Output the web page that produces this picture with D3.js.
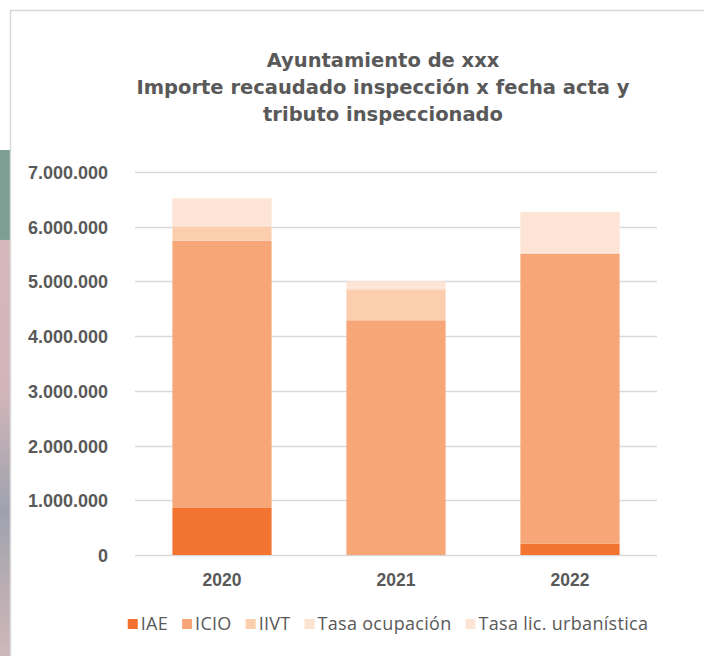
<!DOCTYPE html>
<html>
<head>
<meta charset="utf-8">
<script src="https://cdn.jsdelivr.net/npm/d3@7"></script>
<style>
  body { margin: 0; background: #fff; }
  svg { display: block; font-family: "Century Gothic", Lato, "Open Sans", sans-serif; }
</style>
</head>
<body>
<div id="chart"></div>
<script>
// chart data
const years = ["2020", "2021", "2022"];
const seriesNames = ["IAE", "ICIO", "IIVT", "Tasa ocupación", "Tasa lic. urbanística"];
const iae = [870000, 0, 205000];
const icio = [4875000, 4290000, 5305000];
const iivt = [260000, 565000, 0];
const tasaOcupacion = [20000, 30000, 20000];
const tasaLic = [495000, 120000, 740000];
const yTicks = [0, 1000000, 2000000, 3000000, 4000000, 5000000, 6000000, 7000000];
const colors = ["#F37430", "#F7A677", "#FBCFAD", "#FDE2D0", "#FDE4D4"];
const titleLines = ["Ayuntamiento de xxx", "Importe recaudado inspección x fecha acta y", "tributo inspeccionado"];

const width = 704, height = 656;
const margin = { top: 172, right: 47, bottom: 99, left: 135 };

// build rows for the stack
const rows = years.map((y, i) => ({
  year: y,
  "IAE": iae[i],
  "ICIO": icio[i],
  "IIVT": iivt[i],
  "Tasa ocupación": tasaOcupacion[i],
  "Tasa lic. urbanística": tasaLic[i]
}));

const svg = d3.select("#chart").append("svg")
  .attr("width", width)
  .attr("height", height);

// left background strip outside the card
const grad = svg.append("defs").append("linearGradient")
  .attr("id", "strip").attr("x1", 0).attr("y1", 0).attr("x2", 0).attr("y2", 1);
[[0, "#ffffff"], [0.228, "#ffffff"], [0.229, "#7C9E93"], [0.365, "#7C9E93"], [0.366, "#D6B8BB"],
 [0.6, "#D1B5B9"], [0.78, "#9EA2AE"], [0.9, "#BBAEB3"], [1, "#CDB7BA"]].forEach(s => {
  grad.append("stop").attr("offset", s[0]).attr("stop-color", s[1]);
});
svg.append("rect").attr("x", 0).attr("y", 0).attr("width", 10).attr("height", height)
  .attr("fill", "url(#strip)");

// card border
svg.append("path")
  .attr("d", `M10.5,${height} V10.5 H${width}`)
  .attr("fill", "none").attr("stroke", "#D9D9D9").attr("stroke-width", 1.5);

const x = d3.scaleBand()
  .domain(years)
  .range([margin.left, width - margin.right])
  .paddingInner(0.43)
  .paddingOuter(0.215);

const y = d3.scaleLinear()
  .domain([0, 7000000])
  .range([height - margin.bottom - 2, margin.top]);

const fmt = d3.formatLocale({ decimal: ",", thousands: ".", grouping: [3], currency: ["", "€"] }).format(",");

// gridlines
svg.append("g")
  .selectAll("line")
  .data(yTicks)
  .join("line")
  .attr("x1", margin.left)
  .attr("x2", width - margin.right)
  .attr("y1", d => Math.round(y(d)) + 0.5)
  .attr("y2", d => Math.round(y(d)) + 0.5)
  .attr("stroke", "#D9D9D9")
  .attr("stroke-width", 1.3);

// y axis labels
const yAxis = svg.append("g")
  .attr("transform", `translate(${margin.left - 27},0)`)
  .call(d3.axisLeft(y).tickValues(yTicks).tickFormat(fmt).tickSize(0).tickPadding(0));
yAxis.select(".domain").remove();
yAxis.selectAll("text")
  .attr("fill", "#595959")
  .style("font-size", "18px")
  .style("font-weight", "bold")
  .attr("dy", "0.36em");

// stacked bars
const stack = d3.stack().keys(seriesNames);
const layers = stack(rows);

svg.append("g")
  .selectAll("g")
  .data(layers)
  .join("g")
  .attr("fill", (d, i) => colors[i])
  .selectAll("rect")
  .data(d => d)
  .join("rect")
  .attr("x", d => x(d.data.year))
  .attr("y", d => y(d[1]))
  .attr("width", x.bandwidth())
  .attr("height", d => y(d[0]) - y(d[1]));

// x axis labels
const xAxis = svg.append("g")
  .attr("transform", `translate(0,${y(0)})`)
  .call(d3.axisBottom(x).tickSize(0).tickPadding(19));
xAxis.select(".domain").remove();
xAxis.selectAll("text")
  .attr("fill", "#595959")
  .style("font-size", "17.5px")
  .style("font-weight", "bold");

// title
svg.append("text")
  .attr("x", 383)
  .attr("y", 67)
  .attr("text-anchor", "middle")
  .attr("fill", "#595959")
  .style("font-family", "'DejaVu Sans', sans-serif")
  .style("font-size", "19.5px")
  .style("font-weight", "bold")
  .selectAll("tspan")
  .data(titleLines)
  .join("tspan")
  .attr("x", 383)
  .attr("dy", (d, i) => i === 0 ? 0 : 27)
  .text(d => d);

// legend
const legend = svg.append("g").attr("transform", "translate(0,624)");
const items = legend.selectAll("g")
  .data(seriesNames)
  .join("g");
items.append("rect")
  .attr("width", 10)
  .attr("height", 10)
  .attr("y", -5)
  .attr("fill", (d, i) => colors[i]);
items.append("text")
  .attr("x", 13)
  .attr("y", 0)
  .attr("dy", "0.36em")
  .attr("fill", "#595959")
  .style("font-family", "'Open Sans', sans-serif")
  .style("font-size", "18px")
  .style("letter-spacing", "0.3px")
  .text(d => d);

// lay legend items out in a row, centered
let pos = 0;
const offsets = [];
items.each(function () {
  offsets.push(pos);
  const w = d3.select(this).select("text").node().getComputedTextLength();
  pos += 13 + w + 14;
});
const total = pos - 14;
const start = 388 - total / 2;
items.attr("transform", (d, i) => `translate(${start + offsets[i]},0)`);
</script>
</body>
</html>
